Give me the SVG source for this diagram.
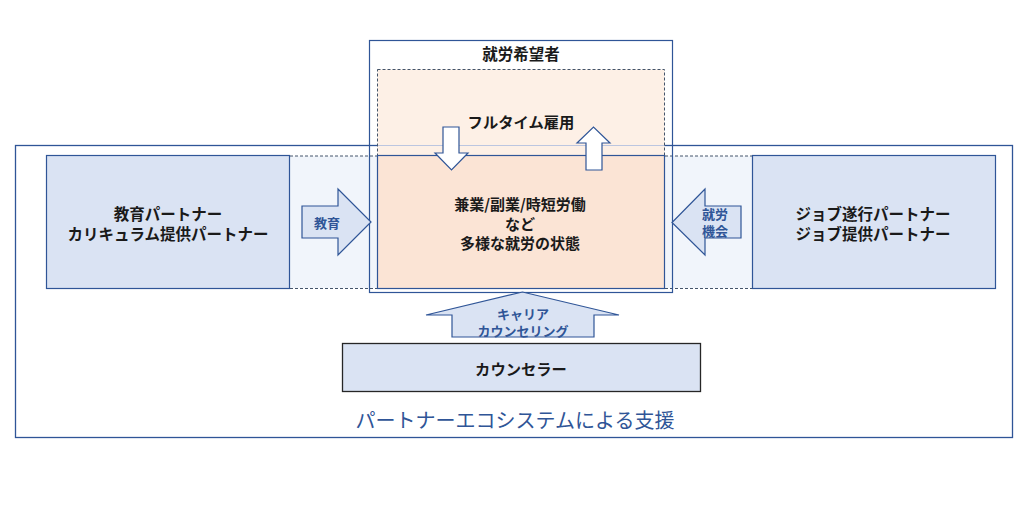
<svg xmlns="http://www.w3.org/2000/svg" width="1029" height="505" viewBox="0 0 1029 505">
<style>
.t{font-family:"Noto Sans CJK JP","Noto Sans",sans-serif;font-weight:bold;fill:#1a1a1a;text-anchor:middle;dominant-baseline:central}
.b{font-family:"Noto Sans CJK JP","Noto Sans",sans-serif;font-weight:bold;fill:#2f5597;text-anchor:middle;dominant-baseline:central}
.partner{fill:#dae3f3;stroke:#2f5597;stroke-width:1.2}
.arrowb{fill:#dae3f3;stroke:#2f5597;stroke-width:1.2}
.arroww{fill:#ffffff;stroke:#2f5597;stroke-width:1.2}
.dash{stroke:#44546a;stroke-width:1;stroke-dasharray:3 2;fill:none}
</style>
<rect width="1029" height="505" fill="#ffffff"/>
<g id="ecosystem">
<rect x="15.5" y="145.5" width="997" height="292" fill="none" stroke="#2f5597" stroke-width="1.3"/>
<text class="b" x="515" y="419" font-size="20" style="font-weight:normal">パートナーエコシステムによる支援</text>
</g>
<g id="band">
<rect x="290" y="156" width="462" height="132" fill="#f1f5fb"/>
<line class="dash" x1="290" y1="156" x2="752" y2="156"/>
<line class="dash" x1="290" y1="288.5" x2="752" y2="288.5"/>
</g>
<g id="jobseeker">
<rect x="369.5" y="40.5" width="303" height="252" fill="none" stroke="#2f5597" stroke-width="1.2"/>
<text class="t" x="521" y="53" font-size="15.5">就労希望者</text>
<rect x="377.5" y="69.5" width="287" height="219" fill="#fdf0e6" stroke="#44546a" stroke-width="1" stroke-dasharray="3 2"/>
<line x1="378" y1="145.5" x2="664" y2="145.5" stroke="#bcc6e0" stroke-width="1.2"/>
<text class="t" x="521" y="121" font-size="15.3">フルタイム雇用</text>
</g>
<g id="diverse">
<rect x="377.5" y="155.5" width="287" height="133" fill="#fbe4d5" stroke="#2f5597" stroke-width="1.2"/>
<text class="t" x="520" y="203" font-size="15">兼業/副業/時短労働</text>
<text class="t" x="520" y="223" font-size="15">など</text>
<text class="t" x="520" y="242" font-size="15">多様な就労の状態</text>
</g>
<g id="edu-partner">
<rect class="partner" x="46.5" y="155.5" width="243" height="133"/>
<text class="t" x="168" y="213" font-size="15.5">教育パートナー</text>
<text class="t" x="168" y="233" font-size="15.5">カリキュラム提供パートナー</text>
</g>
<g id="job-partner">
<rect class="partner" x="752.5" y="155.5" width="243" height="133"/>
<text class="t" x="873" y="213" font-size="15.5">ジョブ遂行パートナー</text>
<text class="t" x="873" y="233" font-size="15.5">ジョブ提供パートナー</text>
</g>
<g id="counselor">
<rect x="342.5" y="343.5" width="358" height="48" fill="#dae3f3" stroke="#262626" stroke-width="1.3"/>
<text class="t" x="521" y="368" font-size="15.3">カウンセラー</text>
</g>
<g id="connectors">
<polygon class="arroww" points="443,127 459,127 459,153 468,153 451.5,170 435,153 443,153"/>
<polygon class="arroww" points="586,170 602,170 602,143 610,143 593.5,127 577,143 586,143"/>
<polygon class="arrowb" points="302,206 338,206 338,189 371,222 338,255 338,238 302,238"/>
<text class="b" x="327" y="222" font-size="13">教育</text>
<polygon class="arrowb" points="741,206 705,206 705,189 672,222.5 705,255 705,238 741,238"/>
<text class="b" x="715" y="213" font-size="13">就労</text>
<text class="b" x="715" y="230" font-size="13">機会</text>
<polygon class="arrowb" points="452,337 594,337 594,315 619,315 522.5,292 426,315 452,315"/>
<text class="b" x="523" y="313" font-size="13">キャリア</text>
<text class="b" x="523" y="330" font-size="13">カウンセリング</text>
</g>
</svg>
